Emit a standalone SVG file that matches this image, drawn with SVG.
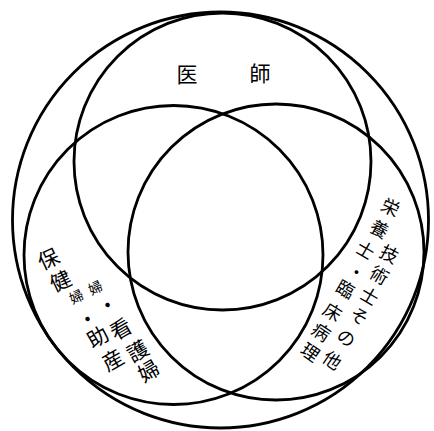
<svg xmlns="http://www.w3.org/2000/svg" width="434" height="431" viewBox="0 0 434 431">
<style>
.c{fill:none;stroke:#000;stroke-width:2.8}
.t{font-family:"Noto Sans CJK JP","Noto Sans CJK SC",sans-serif;font-size:21px;fill:#000;text-anchor:middle;dominant-baseline:central}
.s{font-size:14px}
.m{font-size:18px}
</style>
<rect width="434" height="431" fill="#fff"/>
<g id="outer">
<circle class="c" cx="220.5" cy="220" r="208" stroke-width="3"/>
</g>
<g id="doctor">
<circle class="c" cx="222.5" cy="161.5" r="148.5"/>
<text class="t" x="187" y="73">医</text>
<text class="t" x="260" y="72">師</text>
</g>
<g id="nurse">
<circle class="c" cx="173.5" cy="255" r="149.5"/>
<text class="t" transform="translate(48,258) rotate(-25)">保</text>
<text class="t" transform="translate(60,280) rotate(-25)">健</text>
<text class="t s" transform="translate(76,296) rotate(-25)">婦</text>
<text class="t s" transform="translate(95,287) rotate(-25)">婦</text>
<text class="t" transform="translate(107,304) rotate(-28)">・</text>
<text class="t" transform="translate(87,318) rotate(-28)">・</text>
<text class="t" transform="translate(97,336) rotate(-30)">助</text>
<text class="t" transform="translate(112,359) rotate(-30)">産</text>
<text class="t" transform="translate(120,328) rotate(-30)">看</text>
<text class="t" transform="translate(137,350) rotate(-30)">護</text>
<text class="t" transform="translate(148,370) rotate(-30)">婦</text>
</g>
<g id="others">
<circle class="c" cx="276" cy="252" r="148"/>
<text class="t m" transform="translate(391,206) rotate(25)">栄</text>
<text class="t m" transform="translate(380,228) rotate(28)">養</text>
<text class="t m" transform="translate(366,249) rotate(30)">士</text>
<text class="t m" transform="translate(390,253) rotate(28)">技</text>
<text class="t m" transform="translate(380,274) rotate(30)">術</text>
<text class="t m" transform="translate(370,295) rotate(30)">士</text>
<text class="t m" transform="translate(360,315) rotate(32)">そ</text>
<text class="t m" transform="translate(347,337) rotate(34)">の</text>
<text class="t m" transform="translate(333,359) rotate(35)">他</text>
<text class="t m" transform="translate(357,271) rotate(30)">・</text>
<text class="t m" transform="translate(346,288) rotate(30)">臨</text>
<text class="t m" transform="translate(333,311) rotate(32)">床</text>
<text class="t m" transform="translate(322,331) rotate(34)">病</text>
<text class="t m" transform="translate(311,351) rotate(35)">理</text>
</g>
<g id="connectors"></g>
</svg>
